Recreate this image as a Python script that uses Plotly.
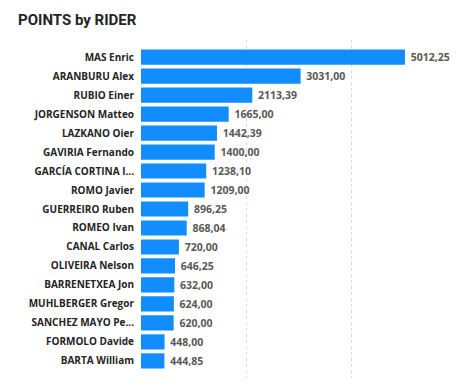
import plotly.graph_objects as go

riders = ["MAS Enric", "ARANBURU Alex", "RUBIO Einer", "JORGENSON Matteo", "LAZKANO Oier",
          "GAVIRIA Fernando", "GARCÍA CORTINA I...", "ROMO Javier", "GUERREIRO Ruben",
          "ROMEO Ivan", "CANAL Carlos", "OLIVEIRA Nelson", "BARRENETXEA Jon",
          "MUHLBERGER Gregor", "SANCHEZ MAYO Pe...", "FORMOLO Davide", "BARTA William"]
points = [5012.25, 3031.00, 2113.39, 1665.00, 1442.39, 1400.00, 1238.10, 1209.00, 896.25,
          868.04, 720.00, 646.25, 632.00, 624.00, 620.00, 448.00, 444.85]

labels = [" " + f"{v:.2f}".replace(".", ",") for v in points]

fig = go.Figure(go.Bar(
    x=points, y=riders, orientation="h",
    marker=dict(color="#118DFF", line=dict(width=0)),
    text=labels, textposition="outside", cliponaxis=False,
    constraintext="none",
    textfont=dict(family="Open Sans", size=10.5, color="#5A5856", weight="bold"),
    hoverinfo="skip",
))

n = len(riders)
pad = 0.4

# page body has an 8px default margin, so the figure is sized/offset to compensate
fig.update_layout(
    width=455, height=376,
    margin=dict(l=133, r=6, t=32, b=6, autoexpand=False),
    paper_bgcolor="white", plot_bgcolor="white",
    bargap=0.2,
    showlegend=False,
    title=dict(text="POINTS by RIDER", x=0.022, xref="container", xanchor="left",
               y=0.968, yref="container", yanchor="middle", automargin=False,
               font=dict(family="Roboto", size=15, color="#252423", weight="bold")),
    xaxis=dict(range=[0, 6000], dtick=2000, showticklabels=False, showgrid=True,
               gridcolor="#D9D9D9", griddash="dot", gridwidth=1, zeroline=False,
               showline=False, ticks="", automargin=False),
    yaxis=dict(range=[n - 0.5 + pad, -0.5 - pad], ticks="", showgrid=False, showline=False,
               ticklabelstandoff=6, automargin=False,
               tickfont=dict(family="Open Sans", size=10, color="#252423", weight="bold")),
)

fig.write_html("out.html")
